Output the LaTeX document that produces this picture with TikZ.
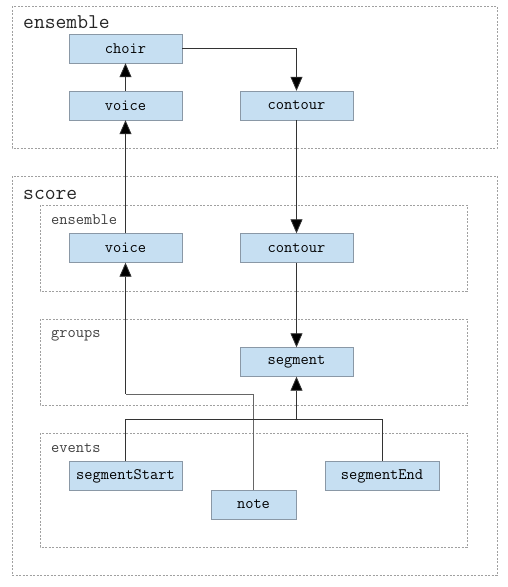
\documentclass[tikz,border=0pt]{standalone}
\usetikzlibrary{arrows.meta,calc,positioning}
\definecolor{boxfill}{HTML}{C6DFF2}
\definecolor{boxline}{HTML}{8A98A6}
\definecolor{frameline}{HTML}{A0A0A0}
\definecolor{wire}{HTML}{333333}

\begin{document}
\begin{tikzpicture}[x=1pt,y=-1pt,
  >={Triangle[width=12pt,length=14pt,fill=black]},
  box/.style={draw=boxline,fill=boxfill,minimum width=113pt,minimum height=29pt,
              inner sep=0pt,font=\ttfamily\fontsize{16}{16}\selectfont},
  frame/.style={draw=frameline,dash pattern=on 2pt off 1.5pt,line width=0.6pt},
  biglbl/.style={anchor=base west,inner sep=0pt,text=black!85,
                 font=\ttfamily\fontsize{21}{21}\selectfont},
  lbl/.style={anchor=base west,inner sep=0pt,text=black!75,
              font=\ttfamily\fontsize{16}{16}\selectfont},
  wire/.style={draw=wire,line width=0.8pt}]
%
  \useasboundingbox (0,0) rectangle (507,587) ;
%
  % frames
  \draw [frame] (12,6) rectangle (497,148) ;
  \draw [frame] (12,176) rectangle (497,575) ;
  \draw [frame] (40,205) rectangle (467,291) ;
  \draw [frame] (40,319) rectangle (467,405) ;
  \draw [frame] (40,433) rectangle (467,547) ;
  \node [biglbl] (ensemblelbl) at (23,28) {ensemble} ;
  \node [biglbl] (scorelbl) at (23,199) {score} ;
  \node [lbl] (innerlbl) at (51,224) {ensemble} ;
  \node [lbl] (groupslbl) at (51,337) {groups} ;
  \node [lbl] (eventslbl) at (51,452) {events} ;
%
  % nodes
  \node [box] (choir) at (125.5,48.5) {choir} ;
  \node [box] (voice) at (125.5,105.5) {voice} ;
  \node [box] (contour) at (296.5,105.5) {contour} ;
  \node [box] (voicetwo) at (125.5,248) {voice} ;
  \node [box] (contourtwo) at (296.5,248) {contour} ;
  \node [box] (segment) at (296.5,362) {segment} ;
  \node [box] (segstart) at (125.5,476) {segmentStart} ;
  \node [box,minimum width=85pt] (note) at (253.5,504.5) {note} ;
  \node [box,minimum width=114pt] (segend) at (382,476) {segmentEnd} ;
%
  \coordinate (noteturn) at ($(voicetwo.south) + (0,131.5)$) ;
  \coordinate (segjoin) at ($(segment.south) + (0,43)$) ;
%
  % connectors
  \draw [wire,->] (voice) -- (choir) ;
  \draw [wire,->] (choir.east) -| (contour.north) ;
  \draw [wire,->] (contour) -- (contourtwo) ;
  \draw [wire,->] (voicetwo) -- (voice) ;
  \draw [wire,->] (contourtwo) -- (segment) ;
  \draw [wire,draw=black!60] (note.north) |- (noteturn) ;
  \draw [wire,->] (noteturn) -- (voicetwo.south) ;
  \draw [wire] (segstart.north) |- (segjoin) -| (segend.north) ;
  \draw [wire,->] (segjoin) -- (segment.south) ;

\end{tikzpicture}
\end{document}
